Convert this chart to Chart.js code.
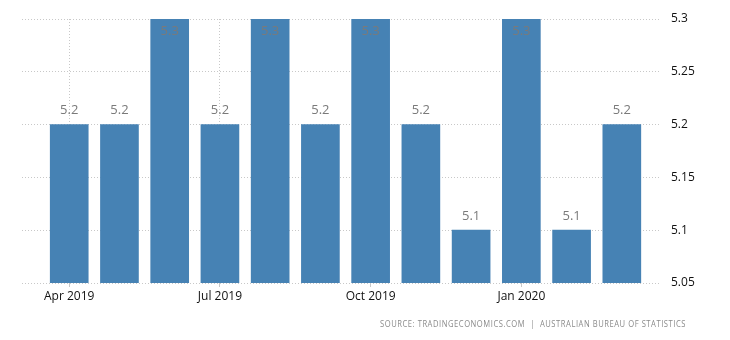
<!DOCTYPE html>
<html>
<head>
<meta charset="utf-8">
<script src="https://cdn.jsdelivr.net/npm/chart.js@4.4.1/dist/chart.umd.min.js"></script>
<style>
   html, body { margin: 0; padding: 0; background: #fff; }
   #wrap { width: 730px; height: 340px; position: relative; }
</style>
</head>
<body>
<div id="wrap"><canvas id="rateChart"></canvas></div>
<script>
// Data
// ----------------------------------------------
const months      = ['Apr 2019', 'May 2019', 'Jun 2019', 'Jul 2019', 'Aug 2019', 'Sep 2019', 'Oct 2019', 'Nov 2019', 'Dec 2019', 'Jan 2020', 'Feb 2020', 'Mar 2020'];
const rates       = [5.2, 5.2, 5.3, 5.2, 5.3, 5.2, 5.3, 5.2, 5.1, 5.3, 5.1, 5.2];
const xTickLabels = ['Apr 2019', 'Jul 2019', 'Oct 2019', 'Jan 2020'];
const yTicks      = [5.05, 5.1, 5.15, 5.2, 5.25, 5.3];
const sourceText  = 'SOURCE: TRADINGECONOMICS.COM  |  AUSTRALIAN BUREAU OF STATISTICS';

const barColor  = '#4682b4';
const gridColor = '#c8c8c8';
const fontFam   = '"Open Sans", "Noto Sans", sans-serif';

// value labels above (or inside) each bar
const valueLabels = {
   id: 'valueLabels',
   afterDatasetsDraw( chart ) {
      const ctx = chart.ctx;
      const meta = chart.getDatasetMeta(0);
      ctx.save();
      ctx.font = '13px ' + fontFam;
      ctx.fillStyle = '#7a7a7a';
      ctx.textAlign = 'center';
      ctx.textBaseline = 'middle';
      meta.data.forEach( (bar, i) => {
         let y = bar.y - 14;
         if (y - 8 < chart.chartArea.top) y = bar.y + 12;
         ctx.fillText(rates[i].toFixed(1), bar.x, y);
      });
      ctx.restore();
   }
};

// source line at the bottom right, fitted to the width in the picture
const sourceLine = {
   id: 'sourceLine',
   afterDraw( chart ) {
      const ctx = chart.ctx;
      ctx.save();
      ctx.font = '8.5px ' + fontFam;
      ctx.fillStyle = '#8a8a8a';
      ctx.textAlign = 'right';
      ctx.textBaseline = 'middle';
      if ('letterSpacing' in ctx) ctx.letterSpacing = '0.6px';
      const w = ctx.measureText(sourceText).width;
      const k = Math.min(1, 306 / w);
      ctx.translate(686, 325);
      ctx.scale(k, 1);
      ctx.fillText(sourceText, 0, 0);
      ctx.restore();
   }
};

document.addEventListener( "DOMContentLoaded", () => {

   new Chart( document.getElementById('rateChart'), {
      type: 'bar',
      data: {
         datasets: [{
            data: rates.map( (v, i) => ({ x: i, y: v }) ),
            backgroundColor: barColor,
            borderWidth: 0,
            barThickness: 38
         }]
      },
      options: {
         responsive: true,
         maintainAspectRatio: false,
         animation: false,
         layout: { padding: { left: 22, top: 19, right: 0, bottom: 0 } },
         plugins: {
            legend: { display: false },
            tooltip: { enabled: false }
         },
         scales: {
            x: {
               type: 'linear',
               offset: false,
               min: -0.94,
               max: 11.76,
               afterBuildTicks: scale => {
                  scale.ticks = xTickLabels.map( l => ({ value: months.indexOf(l) }) );
               },
               afterFit: scale => { scale.height = 57; },
               grid: { color: gridColor, tickLength: 4, drawTicks: true, offset: false },
               border: { display: false, dash: [1, 2] },
               ticks: {
                  autoSkip: false,
                  maxRotation: 0,
                  padding: 2,
                  color: '#111',
                  font: { size: 12, family: fontFam },
                  callback: v => months[v]
               }
            },
            y: {
               position: 'right',
               min: 5.05,
               max: 5.3,
               afterBuildTicks: scale => {
                  scale.ticks = yTicks.map( v => ({ value: v }) );
               },
               afterFit: scale => { scale.width = 70; },
               grid: { color: gridColor, drawTicks: false },
               border: { display: false, dash: [1, 2] },
               ticks: {
                  padding: 11,
                  color: '#111',
                  font: { size: 12, family: fontFam },
                  callback: v => String(+v.toFixed(2))
               }
            }
         }
      },
      plugins: [valueLabels, sourceLine]
   });

});
</script>
</body>
</html>
